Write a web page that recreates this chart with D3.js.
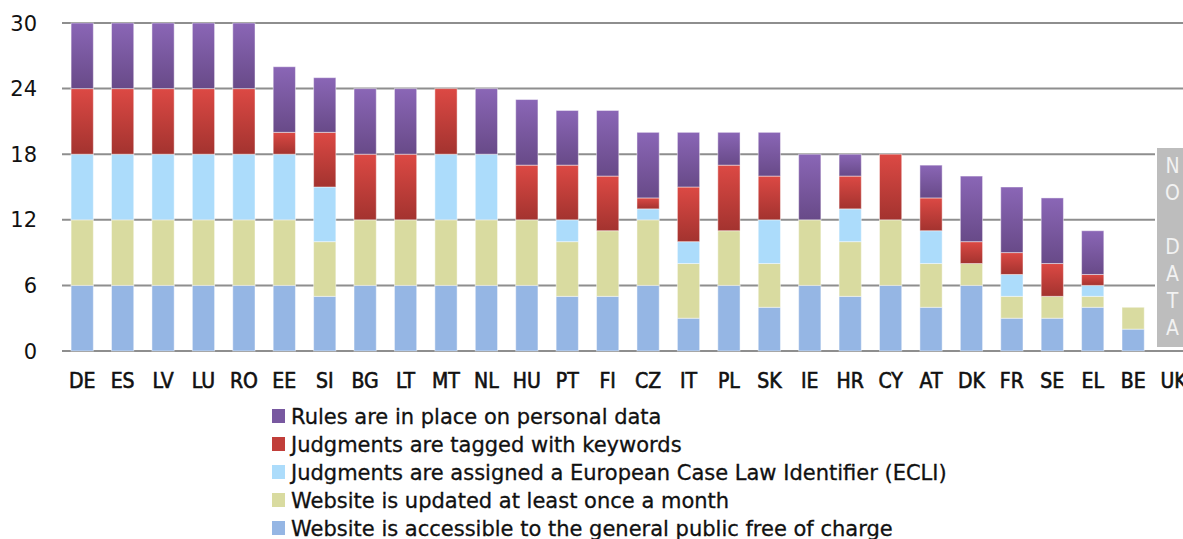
<!DOCTYPE html>
<html>
<head>
<meta charset="utf-8">
<script src="https://cdn.jsdelivr.net/npm/d3@7"></script>
<style>
  html, body { margin: 0; padding: 0; background: #fff; }
  svg { display: block; }
</style>
</head>
<body>
<svg id="chart" width="1183" height="539"></svg>
<script>
// Member states, ordered by total score
const countries = ["DE","ES","LV","LU","RO","EE","SI","BG","LT","MT","NL","HU","PT","FI","CZ","IT","PL","SK","IE","HR","CY","AT","DK","FR","SE","EL","BE","UK"];

// Points per criterion (UK: no data)
const freeAccess   = [6,6,6,6,6,6,5,6,6,6,6,6,5,5,6,3,6,4,6,5,6,4,6,3,3,4,2,0];
const updated      = [6,6,6,6,6,6,5,6,6,6,6,6,5,6,6,5,5,4,6,5,6,4,2,2,2,1,2,0];
const ecli         = [6,6,6,6,6,6,5,0,0,6,6,0,2,0,1,2,0,4,0,3,0,3,0,2,0,1,0,0];
const keywords     = [6,6,6,6,6,2,5,6,6,6,0,5,5,5,1,5,6,4,0,3,6,3,2,2,3,1,0,0];
const personalData = [6,6,6,6,6,6,5,6,6,0,6,6,5,6,6,5,3,4,6,2,0,3,6,6,6,4,0,0];

const yTicks = [0, 6, 12, 18, 24, 30];
const noDataLabel = ["N","O","","D","A","T","A"];

const seriesKeys = ["free", "updated", "ecli", "keywords", "personal"];
const seriesNames = {
  personal: "Rules are in place on personal data",
  keywords: "Judgments are tagged with keywords",
  ecli: "Judgments are assigned a European Case Law Identifier (ECLI)",
  updated: "Website is updated at least once a month",
  free: "Website is accessible to the general public free of charge"
};
const legendOrder = ["personal", "keywords", "ecli", "updated", "free"];

const rows = countries.map((c, i) => ({
  country: c,
  free: freeAccess[i],
  updated: updated[i],
  ecli: ecli[i],
  keywords: keywords[i],
  personal: personalData[i]
}));

const svg = d3.select("#chart");
const W = 1183;
const plot = { left: 62, top: 23, bottom: 351 };
const step = 40.42;

const x = d3.scaleBand()
  .domain(countries)
  .range([plot.left, plot.left + step * countries.length])
  .paddingInner(0.45)
  .paddingOuter(0.225);

const y = d3.scaleLinear().domain([0, 30]).range([plot.bottom, plot.top]);

// Gradients for the darker, shaded series
const defs = svg.append("defs");
function vGrad(id, top, bottom) {
  const g = defs.append("linearGradient").attr("id", id)
    .attr("x1", 0).attr("y1", 0).attr("x2", 0).attr("y2", 1);
  g.append("stop").attr("offset", "0%").attr("stop-color", top);
  g.append("stop").attr("offset", "100%").attr("stop-color", bottom);
}
vGrad("gPurple", "#8a66b6", "#684a88");
vGrad("gRed", "#dc4944", "#a3332f");

const fills = {
  free: "#95b6e4",
  updated: "#d9dba0",
  ecli: "#acdcfb",
  keywords: "url(#gRed)",
  personal: "url(#gPurple)"
};
const legendFills = {
  free: "#95b6e4",
  updated: "#d9dba0",
  ecli: "#acdcfb",
  keywords: "#c13e3a",
  personal: "#7858a0"
};

const labelFont = "DejaVu Sans Condensed, DejaVu Sans, sans-serif";

// Horizontal gridlines
const grid = svg.append("g").attr("class", "grid");
grid.selectAll("line").data(yTicks).join("line")
  .attr("x1", plot.left).attr("x2", W)
  .attr("y1", d => y(d)).attr("y2", d => y(d))
  .attr("stroke", "#8e8e8e").attr("stroke-width", 2);

// Y tick labels
svg.append("g").selectAll("text").data(yTicks).join("text")
  .attr("x", 37).attr("y", d => y(d)).attr("dy", "0.36em")
  .attr("text-anchor", "end")
  .attr("font-family", "DejaVu Sans, sans-serif")
  .attr("font-size", 21).attr("fill", "#111")
  .text(d => d);

// Stacked bars
const stacked = d3.stack().keys(seriesKeys)(rows);
svg.append("g").selectAll("g").data(stacked).join("g")
  .attr("fill", s => fills[s.key])
  .selectAll("rect").data(s => s.filter(d => d[1] - d[0] > 0)).join("rect")
  .attr("x", d => x(d.data.country))
  .attr("width", x.bandwidth())
  .attr("y", d => y(d[1]))
  .attr("height", d => y(d[0]) - y(d[1]))
  .attr("stroke", "rgba(255,255,255,0.45)")
  .attr("stroke-width", 1);

// Country labels
svg.append("g").selectAll("text").data(countries).join("text")
  .attr("x", d => x(d) + x.bandwidth() / 2)
  .attr("y", 388)
  .attr("text-anchor", "middle")
  .attr("font-family", labelFont)
  .attr("font-size", 21).attr("fill", "#111")
  .attr("stroke", "#111").attr("stroke-width", 0.6)
  .text(d => d);

// No-data panel for UK
const nd = svg.append("g");
nd.append("rect")
  .attr("x", 1156).attr("y", 147).attr("width", 40).attr("height", 201)
  .attr("fill", "#bdbdbd").attr("stroke", "#fff").attr("stroke-width", 2);
nd.selectAll("text").data(noDataLabel).join("text")
  .attr("x", 1172.5).attr("y", (d, i) => 172.5 + i * 27)
  .attr("text-anchor", "middle")
  .attr("font-family", labelFont)
  .attr("font-size", 21).attr("fill", "#f2f2f2")
  .text(d => d);

// Legend
const legend = svg.append("g");
const lg = legend.selectAll("g").data(legendOrder).join("g")
  .attr("transform", (d, i) => `translate(272, ${416 + i * 28})`);
lg.append("rect").attr("x", 0).attr("y", -7).attr("width", 13).attr("height", 14)
  .attr("fill", d => legendFills[d]);
lg.append("text").attr("x", 19).attr("y", 0).attr("dy", "0.36em")
  .attr("font-family", "DejaVu Sans, sans-serif")
  .attr("font-size", 21).attr("fill", "#111")
  .attr("stroke", "#111").attr("stroke-width", 0.3)
  .text(d => seriesNames[d]);
</script>
</body>
</html>
